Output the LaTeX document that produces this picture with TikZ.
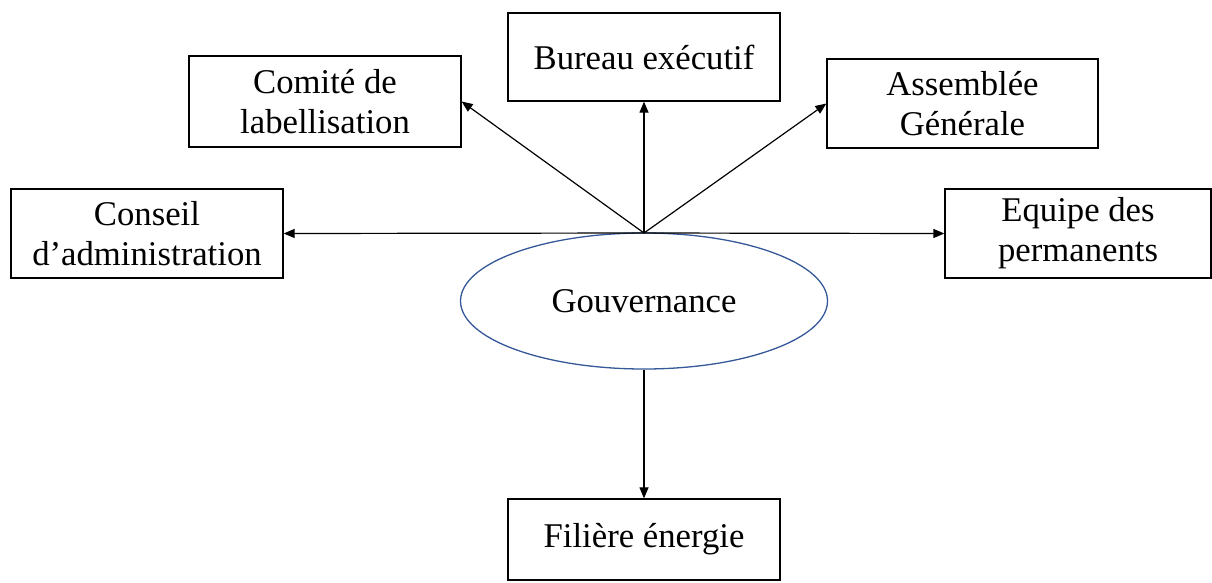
\documentclass[tikz,border=0pt]{standalone}
\usepackage{fontspec}
\setmainfont{Liberation Serif}
\usetikzlibrary{arrows.meta,shapes.geometric}
\definecolor{ellblue}{RGB}{52,88,152}
\begin{document}
\begin{tikzpicture}[x=1pt,y=-1pt,
  box/.style={draw=black,line width=1.3pt,rectangle,align=center,inner sep=0pt,
    font=\fontsize{34.7}{40}\selectfont},
  oval/.style={draw=ellblue,line width=1.3pt,ellipse,inner sep=0pt,
    font=\fontsize{34.7}{40}\selectfont},
  conn/.style={draw=black,line width=1.2pt,-{Triangle[length=11pt,width=9pt]}}]
\useasboundingbox (0,0) rectangle (1212,582);
\node[box,minimum width=272pt,minimum height=88pt] (bur) at (644,57) {Bureau exécutif};
\node[box,minimum width=272pt,minimum height=91pt] (com) at (325,101.5) {Comité de\\labellisation};
\node[box,minimum width=271pt,minimum height=89pt] (ass) at (962.5,103.5) {Assemblée\\Générale};
\node[box,minimum width=272pt,minimum height=89pt] (con) at (147,233.5) {Conseil\\d’administration};
\node[box,minimum width=266pt,minimum height=89pt] (equ) at (1078,233.5) {Equipe des\\permanents};
\node[box,minimum width=272pt,minimum height=81pt] (fil) at (644,539.5) {Filière énergie};
\node[oval,minimum width=367pt,minimum height=136pt] (gov) at (644,301) {Gouvernance};
\coordinate (hub) at (644,233);
\draw[conn] (hub) -- (bur.south);
\draw[conn] (hub) -- (com.east);
\draw[conn] (hub) -- (ass.west);
\draw[conn] (hub) -- (con.east);
\draw[conn] (hub) -- (equ.west);
\draw[conn] (gov.south) -- (fil.north);
\end{tikzpicture}
\end{document}
